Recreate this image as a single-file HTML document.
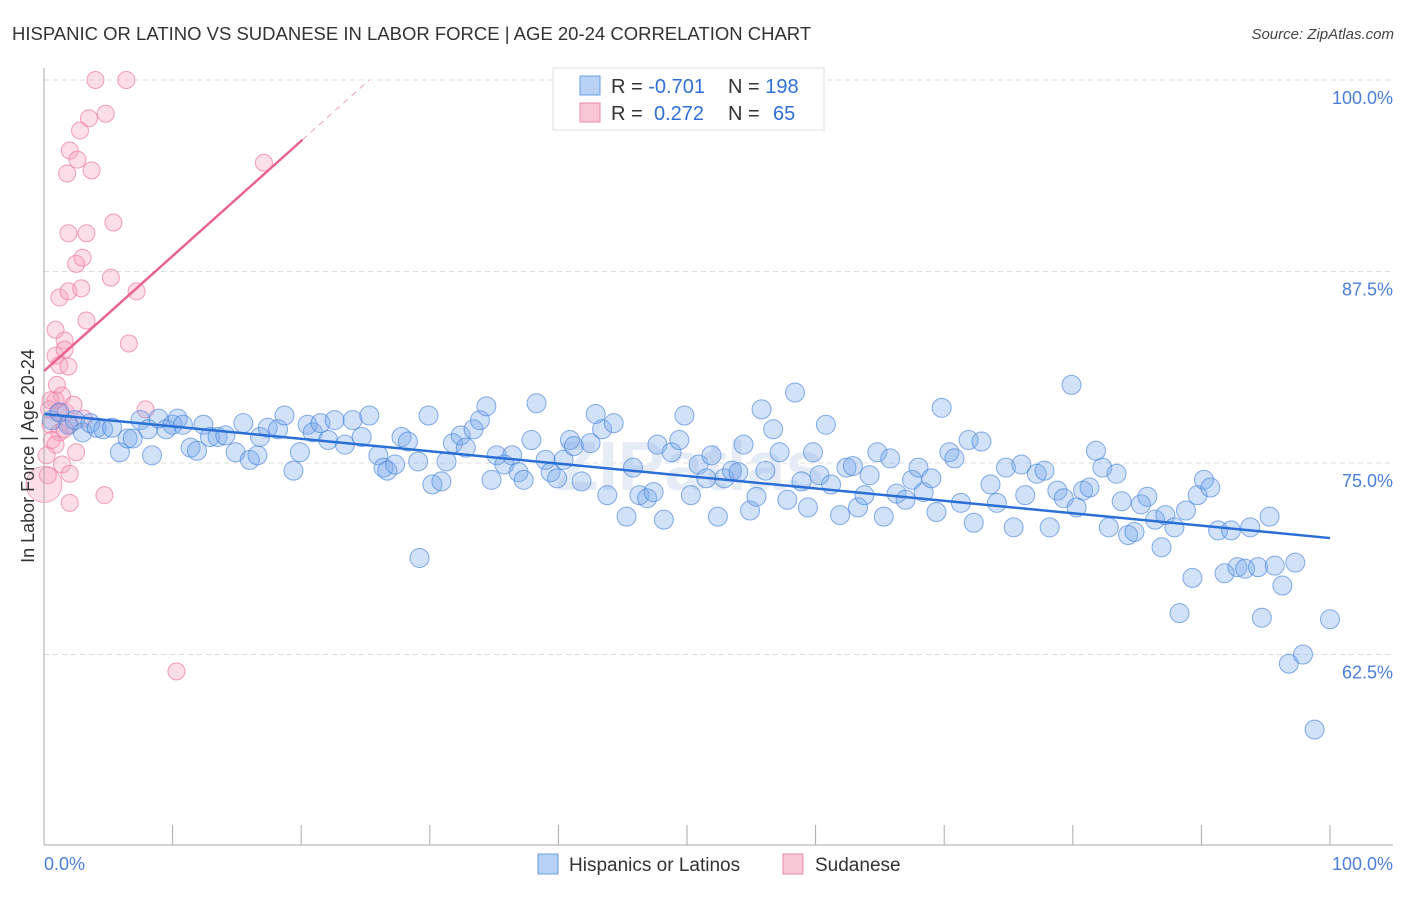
<!DOCTYPE html>
<html><head><meta charset="utf-8"><style>
body{margin:0;background:#fff;font-family:"Liberation Sans",sans-serif;}
svg text{font-family:"Liberation Sans",sans-serif;}
</style></head><body>
<svg id="chart" width="1406" height="892" xmlns="http://www.w3.org/2000/svg">
<text x="12" y="40" font-size="18.5" fill="#333">HISPANIC OR LATINO VS SUDANESE IN LABOR FORCE | AGE 20-24 CORRELATION CHART</text>
<text x="1394" y="39" font-size="15" fill="#444" text-anchor="end" font-style="italic">Source: ZipAtlas.com</text>
<g id="grid"></g>
<text x="690" y="490" font-size="70" fill="#e6ecf5" text-anchor="middle" font-weight="bold">ZIPatlas</text>
<g id="pink"></g>
<g id="blue"></g>
<g id="trends"></g>
<g id="axes"></g>
<text transform="translate(34,456) rotate(-90)" font-size="18" fill="#333" text-anchor="middle">In Labor Force | Age 20-24</text>
<g>
<rect x="553" y="68" width="271" height="62" fill="#fff" stroke="#ddd"/>
<rect x="580" y="76" width="20" height="19" fill="#b8d2f5" stroke="#6a9ee6"/>
<rect x="580" y="103" width="20" height="19" fill="#f9c6d5" stroke="#ec8aa8"/>
<text x="611" y="93" font-size="20" fill="#333">R = <tspan fill="#2f6fd6">-0.701</tspan></text>
<text x="728" y="93" font-size="20" fill="#333">N = <tspan fill="#2f6fd6">198</tspan></text>
<text x="611" y="120" font-size="20" fill="#333">R = <tspan fill="#2f6fd6" x="654">0.272</tspan></text>
<text x="728" y="120" font-size="20" fill="#333">N = <tspan fill="#2f6fd6" x="773">65</tspan></text>
</g>
<g>
<rect x="538" y="854" width="20" height="20" fill="#b8d2f5" stroke="#6a9ee6"/>
<text x="569" y="871" font-size="19" fill="#333">Hispanics or Latinos</text>
<rect x="783" y="854" width="20" height="20" fill="#f9c6d5" stroke="#ec8aa8"/>
<text x="815" y="871" font-size="19" fill="#333">Sudanese</text>
</g>
</svg>
<script>
const yTicks=[100,87.5,75,62.5];
const yTickLabels=["100.0%","87.5%","75.0%","62.5%"];
const xTickLabels=["0.0%","100.0%"];
const blueTrend=[78.2,70.1];
const pinkTrend=[81.0,96.1];
const pinkSolidEnd=20.1;
const pinkX=[4.0,6.4,2.8,3.5,4.8,2.0,2.6,3.7,1.8,17.1,1.9,3.3,5.4,2.5,3.0,5.2,7.2,1.2,1.9,2.9,0.9,3.3,1.6,6.6,0.9,1.6,1.2,1.9,1.0,0.9,1.4,0.4,1.1,1.7,2.3,7.9,0.5,1.2,2.0,0.6,0.9,2.5,1.4,2.0,0.3,4.7,2.0,10.3,0.5,0.2,1.6,3.1];
const pinkY=[100,100,96.7,97.5,97.8,95.4,94.8,94.1,93.9,94.6,90.0,90.0,90.7,88.0,88.4,87.1,86.2,85.8,86.2,86.4,83.7,84.3,83.0,82.8,82.0,82.4,81.4,81.3,80.1,79.1,79.4,78.5,78.3,78.3,78.8,78.5,77.5,77.0,77.5,76.5,76.2,75.7,74.9,74.3,74.2,72.9,72.4,61.4,79.1,75.5,77.2,77.9];
const blueX=[0.6,1.2,1.9,2.4,3.0,3.6,4.1,4.6,5.3,5.9,6.5,6.9,7.5,8.1,8.4,8.9,9.5,10.0,10.4,10.8,11.4,11.9,12.4,12.9,13.5,14.1,14.9,15.5,16.0,16.6,16.8,17.4,18.2,18.7,19.4,19.9,20.5,20.9,21.5,22.1,22.6,23.4,24.0,24.7,25.3,26.0,26.4,26.7,27.3,27.8,28.3,29.1,29.9,30.2,30.9,31.3,31.8,32.4,32.8,33.4,33.9,34.4,34.8,35.2,35.8,36.4,36.9,37.3,38.3,37.9,39.0,39.4,39.9,40.4,40.9,41.2,41.8,42.5,42.9,43.4,43.8,44.3,45.3,45.8,46.3,46.9,47.4,47.7,48.2,48.8,49.4,49.8,50.3,50.9,51.5,51.9,52.4,52.9,53.5,54.0,54.4,54.9,55.4,55.8,56.1,56.7,57.2,57.8,58.4,58.9,59.4,59.8,60.3,60.8,61.2,61.9,62.4,62.9,63.3,63.8,64.2,64.8,65.3,65.8,66.3,67.0,67.5,68.0,68.4,69.0,69.4,69.8,70.4,70.8,71.3,71.9,72.3,72.9,73.6,74.1,74.8,75.4,76.0,76.3,77.2,77.8,78.2,78.8,79.3,79.9,80.3,80.8,81.3,81.8,82.3,82.8,83.4,83.8,84.3,84.8,85.3,85.8,86.4,86.9,87.2,87.9,88.3,88.8,89.3,89.7,90.2,90.7,91.3,91.8,92.3,92.8,93.4,93.8,94.4,94.7,95.3,95.7,96.3,96.8,97.3,97.9,98.8,100,29.2];
const blueY=[77.8,78.3,77.5,77.8,77.0,77.6,77.3,77.2,77.3,75.7,76.6,76.6,77.8,77.2,75.5,77.9,77.2,77.5,77.9,77.5,76.0,75.8,77.5,76.7,76.7,76.8,75.7,77.6,75.2,75.5,76.7,77.3,77.2,78.1,74.5,75.7,77.5,77.0,77.6,76.5,77.8,76.2,77.8,76.7,78.1,75.5,74.7,74.5,74.9,76.7,76.4,75.1,78.1,73.6,73.8,75.1,76.3,76.8,76.0,77.2,77.8,78.7,73.9,75.5,74.9,75.5,74.4,73.9,78.9,76.5,75.2,74.4,74.0,75.2,76.5,76.1,73.8,76.3,78.2,77.2,72.9,77.6,71.5,74.7,72.9,72.7,73.1,76.2,71.3,75.7,76.5,78.1,72.9,74.9,74.0,75.5,71.5,74.0,74.5,74.4,76.2,71.9,72.8,78.5,74.5,77.2,75.7,72.6,79.6,73.8,72.1,75.7,74.2,77.5,73.6,71.6,74.7,74.8,72.1,72.9,74.2,75.7,71.5,75.3,73.0,72.6,73.9,74.7,73.1,74.0,71.8,78.6,75.7,75.3,72.4,76.5,71.1,76.4,73.6,72.4,74.7,70.8,74.9,72.9,74.3,74.5,70.8,73.2,72.7,80.1,72.1,73.2,73.4,75.8,74.7,70.8,74.3,72.5,70.3,70.5,72.3,72.8,71.3,69.5,71.6,70.8,65.2,71.9,67.5,72.9,73.9,73.4,70.6,67.8,70.6,68.2,68.1,70.8,68.2,64.9,71.5,68.3,67.0,61.9,68.5,62.5,57.6,64.8,68.8];
const NS="http://www.w3.org/2000/svg";
const X=v=>44+v*12.86, Y=v=>80+(100-v)*15.32;
function mk(tag,attrs,parent){const e=document.createElementNS(NS,tag);for(const k in attrs)e.setAttribute(k,attrs[k]);parent.appendChild(e);return e;}
const grid=document.getElementById('grid'),axes=document.getElementById('axes');
yTicks.forEach((t,i)=>{
 const l=mk('line',{x1:44,x2:1393,y1:Y(t),y2:Y(t),stroke:'#ddd','stroke-dasharray':'5,4'},grid);
 
 
 const tx=mk('text',{x:1393,y:Y(t)+24,'font-size':18,fill:'#4a7fd8','text-anchor':'end'},axes);
 tx.textContent=yTickLabels[i];
 
 
});
const la=mk('line',{x1:44,x2:44,y1:68,y2:845,stroke:'#aaa'},axes);


const ba=mk('line',{x1:44,x2:1393,y1:845,y2:845,stroke:'#aaa'},axes);


for(let i=0;i<=10;i++){
 const t=mk('line',{x1:X(i*10),x2:X(i*10),y1:825,y2:845,stroke:'#aaa'},axes);
 
 
}
const xl0=mk('text',{x:44,y:870,'font-size':18,fill:'#4a7fd8'},axes);xl0.textContent=xTickLabels[0];


const xl1=mk('text',{x:1393,y:870,'font-size':18,fill:'#4a7fd8','text-anchor':'end'},axes);xl1.textContent=xTickLabels[1];


const pg=document.getElementById('pink');
pinkX.forEach((x,i)=>{
 const c=mk('circle',{cx:X(x),cy:Y(pinkY[i]),r:8.5,fill:'rgba(245,160,188,0.35)',stroke:'rgba(236,120,158,0.7)'},pg);
 
 
});
const big=mk('circle',{cx:X(0),cy:Y(73.6),r:18,fill:'rgba(245,160,188,0.35)',stroke:'rgba(236,120,158,0.6)'},pg);


const bg=document.getElementById('blue');
blueX.forEach((x,i)=>{
 const c=mk('circle',{cx:X(x),cy:Y(blueY[i]),r:9.5,fill:'rgba(120,170,235,0.35)',stroke:'rgba(70,130,220,0.65)'},bg);
 
 
});
const tg=document.getElementById('trends');
const bt=mk('line',{x1:X(0),y1:Y(blueTrend[0]),x2:X(100),y2:Y(blueTrend[1]),stroke:'#2a6fd6','stroke-width':2.5},tg);


const slope=(pinkTrend[1]-pinkTrend[0])/pinkSolidEnd;
const pt=mk('line',{x1:X(0),y1:Y(pinkTrend[0]),x2:X(pinkSolidEnd),y2:Y(pinkTrend[1]),stroke:'#e8648e','stroke-width':2.5},tg);


const xEnd=(100-pinkTrend[0])/slope;
const pd=mk('line',{x1:X(pinkSolidEnd),y1:Y(pinkTrend[1]),x2:X(xEnd),y2:Y(100),stroke:'#f0a0b8','stroke-width':1,'stroke-dasharray':'6,5'},tg);


</script>
</body></html>
